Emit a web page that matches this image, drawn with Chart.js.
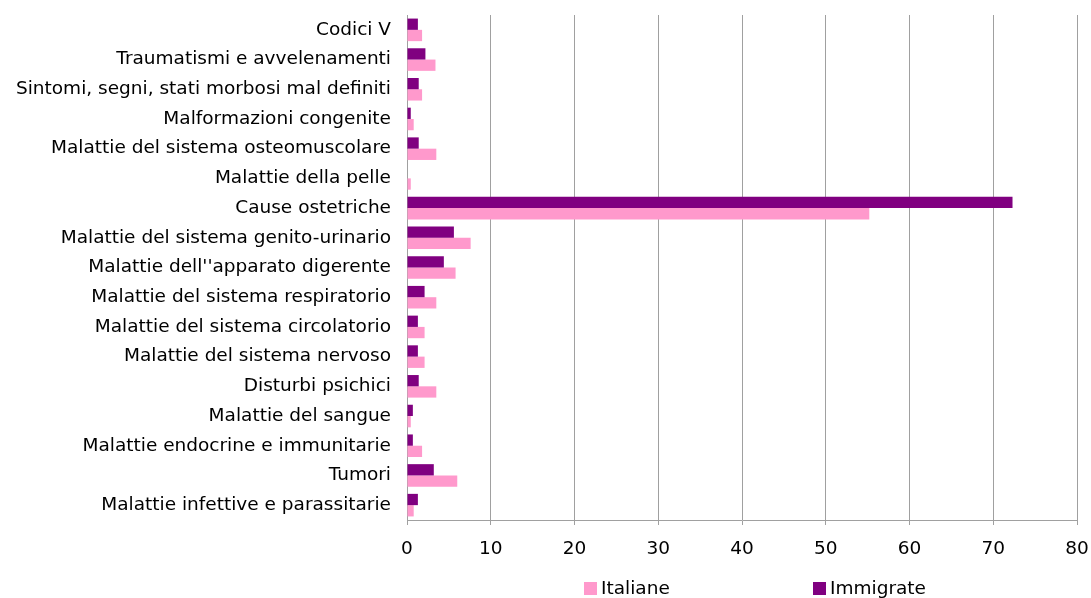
<!DOCTYPE html>
<html>
<head>
<meta charset="utf-8">
<script src="https://cdn.jsdelivr.net/npm/chart.js@4/dist/chart.umd.min.js"></script>
<style>
  html, body { margin: 0; padding: 0; background: #fff; }
  #wrap { width: 1091px; height: 598px; position: relative; }
</style>
</head>
<body>
<div id="wrap"><canvas id="myChart"></canvas></div>
<script>
const categories = [
    'Codici V',
    'Traumatismi e avvelenamenti',
    'Sintomi, segni, stati morbosi mal definiti',
    'Malformazioni congenite',
    'Malattie del sistema osteomuscolare',
    'Malattie della pelle',
    'Cause ostetriche',
    'Malattie del sistema genito-urinario',
    "Malattie dell''apparato digerente",
    'Malattie del sistema respiratorio',
    'Malattie del sistema circolatorio',
    'Malattie del sistema nervoso',
    'Disturbi psichici',
    'Malattie del sangue',
    'Malattie endocrine e immunitarie',
    'Tumori',
    'Malattie infettive e parassitarie'
];
const italiane = [1.8, 3.4, 1.8, 0.8, 3.5, 0.45, 55.2, 7.6, 5.8, 3.5, 2.1, 2.1, 3.5, 0.45, 1.8, 6.0, 0.8];
const immigrate = [1.3, 2.2, 1.4, 0.45, 1.4, 0, 72.3, 5.6, 4.4, 2.1, 1.3, 1.3, 1.4, 0.7, 0.7, 3.2, 1.3];
const xTicks = [0, 10, 20, 30, 40, 50, 60, 70, 80];

const FONT = 'DejaVu Sans';
const FSIZE = 18.5;

// legend drawn by hand, Excel style: wide gap between items
const bottomLegend = {
    id: 'bottomLegend',
    afterDraw(chart) {
        const c = chart.ctx;
        const area = chart.chartArea;
        const items = [
            {text: 'Italiane', color: '#FF99CC', x: area.left + 177},
            {text: 'Immigrate', color: '#800080', x: area.left + 406}
        ];
        c.save();
        c.font = FSIZE + 'px "' + FONT + '"';
        c.textBaseline = 'middle';
        c.textAlign = 'left';
        items.forEach(it => {
            c.fillStyle = it.color;
            c.fillRect(it.x, 582, 13, 13);
            c.fillStyle = '#000';
            c.fillText(it.text, it.x + 17, 589);
        });
        c.restore();
    }
};

const ctx = document.getElementById('myChart').getContext('2d');
new Chart(ctx, {
    type: 'bar',
    data: {
        labels: categories,
        datasets: [{
            label: 'Immigrate',
            data: immigrate,
            backgroundColor: '#800080',
            categoryPercentage: 0.76,
            barPercentage: 1.0
        }, {
            label: 'Italiane',
            data: italiane,
            backgroundColor: '#FF99CC',
            categoryPercentage: 0.76,
            barPercentage: 1.0
        }]
    },
    options: {
        indexAxis: 'y',
        responsive: true,
        maintainAspectRatio: false,
        animation: false,
        layout: {
            padding: {top: 15, left: 10, right: 14, bottom: 0}
        },
        plugins: {
            legend: {display: false},
            tooltip: {enabled: false}
        },
        scales: {
            x: {
                min: 0,
                max: 80,
                afterBuildTicks: axis => {
                    axis.ticks = xTicks.map(v => ({value: v}));
                },
                afterFit: axis => {
                    axis.height = 78;
                    axis.paddingLeft = 0;
                    axis.paddingRight = 0;
                },
                grid: {
                    display: true,
                    color: '#A0A0A0',
                    lineWidth: 1,
                    drawTicks: true,
                    tickLength: 5
                },
                border: {display: true, color: '#A0A0A0', width: 1},
                ticks: {
                    color: '#000',
                    padding: 13,
                    maxRotation: 0,
                    font: {size: FSIZE, family: FONT}
                }
            },
            y: {
                afterFit: axis => {
                    axis.width = 397;
                    axis.paddingTop = 0;
                    axis.paddingBottom = 0;
                },
                grid: {display: false, drawTicks: false},
                border: {display: true, color: '#A0A0A0', width: 1},
                ticks: {
                    color: '#000',
                    padding: 16,
                    autoSkip: false,
                    font: {size: FSIZE, family: FONT}
                }
            }
        }
    },
    plugins: [bottomLegend]
});
</script>
</body>
</html>
